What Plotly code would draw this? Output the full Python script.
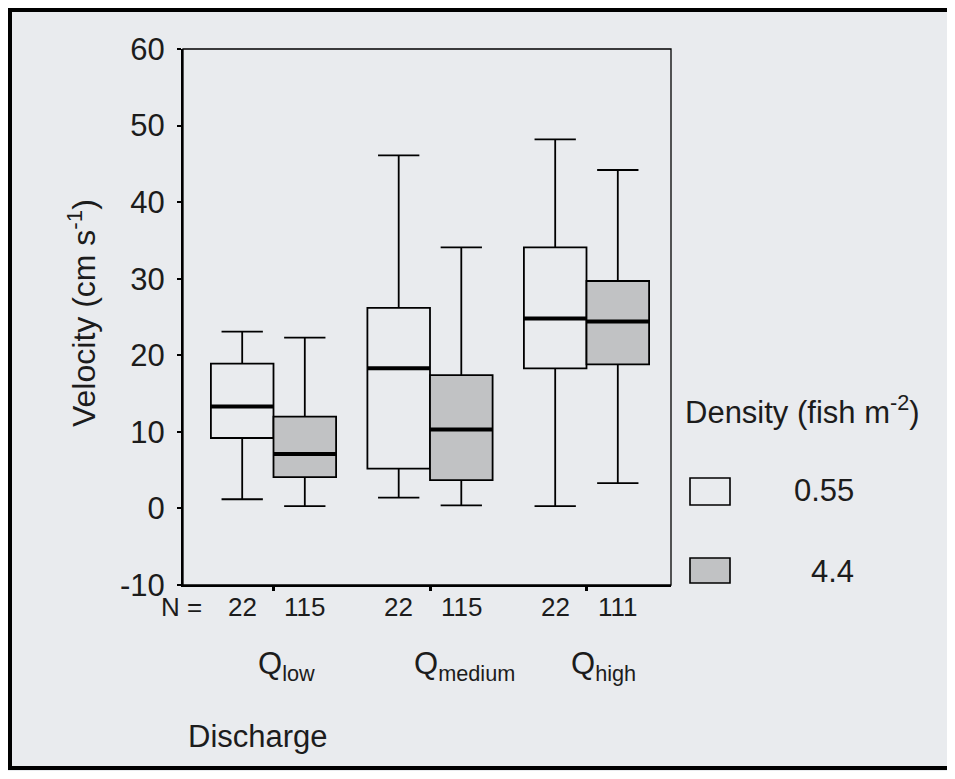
import plotly.graph_objects as go

# ---------------- data ----------------
groups = ["Q<sub>low</sub>", "Q<sub>medium</sub>", "Q<sub>high</sub>"]
densities = ["0.55", "4.4"]
n_low_density = [22, 22, 22]
n_high_density = [115, 115, 111]

# density 0.55 fish m-2
lo_whisk_a = [1.2, 1.4, 0.3]
q1_a = [9.2, 5.2, 18.3]
median_a = [13.3, 18.3, 24.8]
q3_a = [18.9, 26.2, 34.1]
hi_whisk_a = [23.1, 46.1, 48.2]

# density 4.4 fish m-2
lo_whisk_b = [0.3, 0.4, 3.3]
q1_b = [4.1, 3.7, 18.8]
median_b = [7.1, 10.3, 24.4]
q3_b = [12.0, 17.4, 29.7]
hi_whisk_b = [22.3, 34.1, 44.2]

y_ticks = [-10, 0, 10, 20, 30, 40, 50, 60]

# ---------------- style ----------------
BG = "#e9ebee"
GRAY = "#c1c2c4"
FONT = "Liberation Sans, Arial, sans-serif"
TXT = "#1c1c1c"
OFF = 0.2
BW = 0.4

# page offset (body margin) and plot area in window pixels
PAD = 8
L, R, T, B = 183, 671, 49, 585
W, H = 955 - 2 * PAD, 779 - 2 * PAD
pw, ph = R - L, B - T


def px(x):
    return (x - L) / pw


def py(y):
    return (B - y) / ph


fig = go.Figure()

series = [
    (lo_whisk_a, q1_a, median_a, q3_a, hi_whisk_a, -OFF, "rgba(0,0,0,0)", densities[0]),
    (lo_whisk_b, q1_b, median_b, q3_b, hi_whisk_b, OFF, GRAY, densities[1]),
]

for lo, q1, md, q3, hi, off, fill, name in series:
    xs = [i + off for i in range(len(groups))]
    fig.add_trace(go.Box(
        x=xs, q1=q1, median=md, q3=q3, lowerfence=lo, upperfence=hi,
        width=BW, whiskerwidth=0.66, fillcolor=fill,
        line=dict(color="black", width=1.8), name=name,
        boxpoints=False, showlegend=False, hoverinfo="skip",
    ))
    # thick median lines
    mx, my = [], []
    for x, m in zip(xs, md):
        mx += [x - BW / 2, x + BW / 2, None]
        my += [m, m, None]
    fig.add_trace(go.Scatter(x=mx, y=my, mode="lines",
                             line=dict(color="black", width=4),
                             showlegend=False, hoverinfo="skip"))

# x axis mapping: tick 0 at 273.5px, 1 at 429, 2 at 586.5
sp = (586.5 - 273.5) / 2
x0 = 0 - (273.5 - L) / sp
x1 = 2 + (R - 586.5) / sp

fig.update_xaxes(range=[x0, x1], showgrid=False, zeroline=False,
                 showline=True, linecolor="black", linewidth=2,
                 tickmode="array", tickvals=[0, 1, 2], ticktext=["", "", ""],
                 ticks="outside", ticklen=4, tickwidth=3, tickcolor="black")
fig.update_yaxes(range=[-10, 60], showgrid=False, zeroline=False,
                 showline=True, linecolor="black", linewidth=2,
                 tickmode="array", tickvals=y_ticks, ticktext=[str(v) for v in y_ticks],
                 ticks="outside", ticklen=4, tickwidth=2, tickcolor="black",
                 ticklabelstandoff=6,
                 tickfont=dict(family=FONT, size=31, color=TXT))

shapes = []
# frame (top/right thinner)
shapes.append(dict(type="rect", xref="paper", yref="paper", x0=0, x1=1, y0=0, y1=1,
                   line=dict(color="black", width=1.3)))
# outer scan border (top, left, bottom edges)
shapes.append(dict(type="path", xref="paper", yref="paper",
                   path=f"M {px(950)},{py(10)} L {px(10)},{py(10)} L {px(10)},{py(768)} L {px(950)},{py(768)}",
                   line=dict(color="black", width=4)))
# legend swatches
shapes.append(dict(type="rect", xref="paper", yref="paper",
                   x0=px(690), x1=px(730), y0=py(505), y1=py(478),
                   fillcolor="rgba(0,0,0,0)", line=dict(color="black", width=1.6)))
shapes.append(dict(type="rect", xref="paper", yref="paper",
                   x0=px(690), x1=px(730), y0=py(583), y1=py(558),
                   fillcolor=GRAY, line=dict(color="black", width=1.6)))

ann = []
tf = dict(family=FONT, size=26, color=TXT)
big = dict(family=FONT, size=31, color=TXT)
# N labels
ann.append(dict(text="N =", xref="paper", yref="paper", x=px(204), y=py(607),
                xanchor="right", yanchor="middle", showarrow=False, font=tf))
for i in range(len(groups)):
    ann.append(dict(text=str(n_low_density[i]), xref="x", yref="paper", x=i - OFF, y=py(607),
                    xanchor="center", yanchor="middle", showarrow=False, font=tf))
    ann.append(dict(text=str(n_high_density[i]), xref="x", yref="paper", x=i + OFF, y=py(607),
                    xanchor="center", yanchor="middle", showarrow=False, font=tf))
    ann.append(dict(text=groups[i], xref="x", yref="paper", x=i, y=py(666),
                    xanchor="left", yanchor="middle", xshift=-18, showarrow=False, font=big))
ann.append(dict(text="Discharge", xref="paper", yref="paper", x=px(186), y=py(736),
                xanchor="left", yanchor="middle", showarrow=False, font=big))
ann.append(dict(text="Velocity (cm s<sup>-1</sup>)", xref="paper", yref="paper",
                x=px(82), y=py(313), textangle=-90, xanchor="center", yanchor="middle",
                showarrow=False, font=dict(family=FONT, size=32, color=TXT)))
ann.append(dict(text="Density (fish m<sup>-2</sup>)", xref="paper", yref="paper",
                x=px(683), y=py(410), xanchor="left", yanchor="middle",
                showarrow=False, font=big))
ann.append(dict(text=densities[0], xref="paper", yref="paper", x=px(856), y=py(490),
                xanchor="right", yanchor="middle", showarrow=False, font=big))
ann.append(dict(text=densities[1], xref="paper", yref="paper", x=px(856), y=py(571),
                xanchor="right", yanchor="middle", showarrow=False, font=big))

fig.update_layout(width=W, height=H,
                  margin=dict(l=L - PAD, r=W - (R - PAD), t=T - PAD, b=H - (B - PAD)),
                  paper_bgcolor=BG, plot_bgcolor=BG, showlegend=False,
                  shapes=shapes, annotations=ann,
                  font=dict(family=FONT, color=TXT))

fig.write_html("out.html")
